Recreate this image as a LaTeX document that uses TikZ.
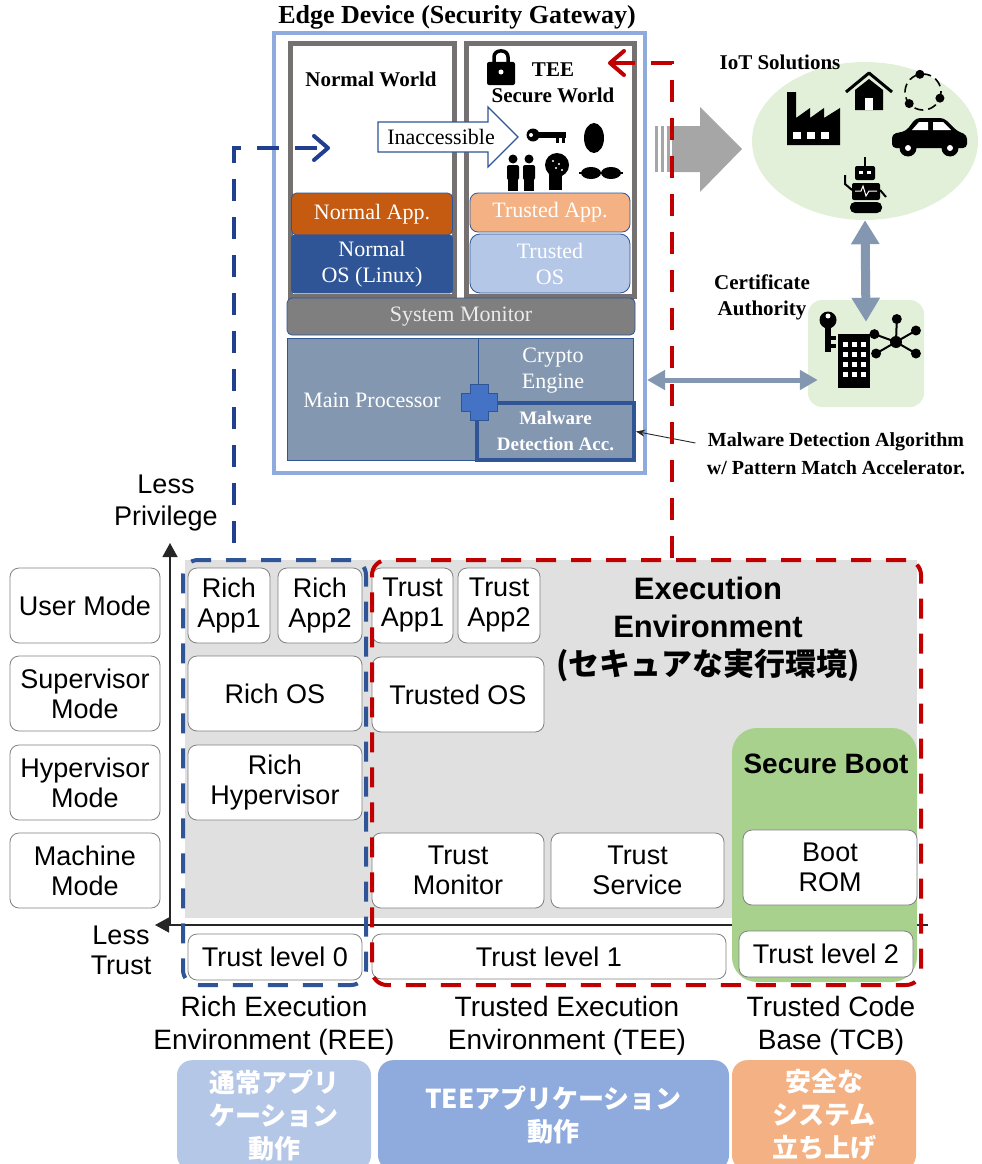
\documentclass[tikz,border=0pt]{standalone}
\usepackage{fontspec}
\setmainfont{Liberation Serif}
\setsansfont{Liberation Sans}
\newfontfamily\jpfont{Noto Sans CJK JP}
\usetikzlibrary{arrows.meta, shapes.geometric}

\definecolor{edgeblue}{HTML}{8FAADC}
\definecolor{worldgray}{HTML}{767171}
\definecolor{apporange}{HTML}{C55A11}
\definecolor{osblue}{HTML}{2F5597}
\definecolor{peach}{HTML}{F4B183}
\definecolor{paleblue}{HTML}{B4C7E7}
\definecolor{monitorgray}{HTML}{7F7F7F}
\definecolor{cpublue}{HTML}{8497B0}
\definecolor{crossblue}{HTML}{4472C4}
\definecolor{teered}{HTML}{C00000}
\definecolor{linkblue}{HTML}{203F8F}
\definecolor{mint}{HTML}{E2F0D9}
\definecolor{bootgreen}{HTML}{A9D18E}
\definecolor{envgray}{HTML}{E0E0E0}
\definecolor{arrowgray}{HTML}{A6A6A6}

\begin{document}
\begin{tikzpicture}[
        x=1pt, y=-1pt,
        wh/.style 2 args={minimum width=#1pt, minimum height=#2pt},
        serif/.style={font=\fontsize{22}{26}\selectfont},
        caption/.style={font=\bfseries\fontsize{21}{26}\selectfont, align=center},
        layer/.style={draw=osblue, line width=0.8pt, inner sep=0pt, align=center,
            text=white, serif},
        world/.style={draw=worldgray, line width=5pt, fill=white},
        mode/.style={draw=black!50, line width=0.8pt, fill=white, rounded corners=9pt,
            inner sep=0pt, align=center, font=\sffamily\fontsize{27}{30}\selectfont},
        envlabel/.style={align=center, font=\sffamily\fontsize{28}{33}\selectfont},
        usage/.style={rounded corners=15pt, text=white, anchor=north, inner sep=0pt,
            align=center, font=\jpfont\bfseries\fontsize{26}{33}\selectfont},
        envbox/.style={rounded corners=15pt, line width=4pt, dash pattern=on 20pt off 15pt},
        link/.style={line width=4pt, dash pattern=on 22pt off 16pt,
            -{Straight Barb[length=14pt, width=24pt, round]}},
        duplex/.style={cpublue, {Triangle[length=24pt, width=27pt]}-{Triangle[length=24pt, width=27pt]}}
    ]
    \clip (0,0) rectangle (982,1164);

    % ---------------- edge device ----------------
    \node[font=\bfseries\fontsize{26}{30}\selectfont] (edgetitle) at (457,17) {Edge Device (Security Gateway)};
    \node[draw=edgeblue, line width=4pt, wh={371}{440}] (edge) at (459.5,253) {};
    \node[world, wh={164}{252}] (normalw) at (372,170) {};
    \node[world, wh={168}{252}] (securew) at (550,170) {};
    \node[caption] (nwtitle) at (371,79) {Normal World};
    \node[caption] (swtitle) at (553,83) {TEE\\Secure World};

    \node[layer, fill=apporange, rounded corners=5pt, wh={161}{42}] (napp) at (372,214) {Normal App.};
    \node[layer, fill=osblue, rounded corners=3pt, wh={161}{58}] (nos) at (372,264) {Normal\\OS (Linux)};
    \node[layer, fill=peach, rounded corners=8pt, wh={160}{39}] (tapp) at (550,212.5) {Trusted App.};
    \node[layer, fill=paleblue, rounded corners=10pt, wh={160}{59}] (tos) at (550,263.5) {Trusted\\OS};
    \node[layer, fill=monitorgray, text=black!8, rounded corners=5pt, wh={348}{37}] (monitor) at (461,316.5) {System Monitor};
    \node[layer, fill=cpublue, wh={346}{122}] (soc) at (460,399) {};
    \node[text=white, serif] (cpu) at (372,400) {Main Processor};
    \node[text=white, serif, align=center] (crypto) at (553,371) {Crypto\\Engine};
    \draw[osblue, line width=1pt] (478,338) -- (478,403);
    \node[draw=osblue, line width=4pt, fill=cpublue, inner sep=0pt, align=center, text=white,
        font=\bfseries\fontsize{19}{26}\selectfont, wh={157}{57}] (mda) at (555.5,431.5) {Malware\\Detection Acc.};
    % bus cross
    \filldraw[fill=crossblue, draw=osblue, line width=0.8pt] (470,384) -- (488,384) -- (488,393) -- (497,393)
        -- (497,411) -- (488,411) -- (488,420) -- (470,420) -- (470,411) -- (461,411) -- (461,393) -- (470,393) -- cycle;

    % inaccessible arrow
    \draw[osblue, line width=1.2pt, fill=white] (378,122) -- (488,122) -- (488,107) -- (518,137)
        -- (488,167) -- (488,152) -- (378,152) -- cycle;
    \node[serif] (inacc) at (441,137) {Inaccessible};

    % lock
    \draw[line width=3.5pt, rounded corners=6pt] (494,66) -- (494,51) -- (508,51) -- (508,66);
    \fill[rounded corners=2pt] (487,62) rectangle (515,85);
    \fill[white] (501,72) circle (2.5);
    % key, fingerprint, people, head, link
    \fill (533,135) circle (6.5);
    \fill (538,132) rectangle (566,138);
    \fill (556,138) rectangle (559,143);
    \fill (562,138) rectangle (565,143);
    \fill[white] (531,135) circle (2);
    \fill (594,138) ellipse (10 and 15);
    \foreach \px in {513,529} {
        \fill (\px,159) circle (4.5);
        \fill[rounded corners=2pt] (\px-6,165) rectangle (\px+6,180);
        \fill (\px-5,178) rectangle (\px+5,191);
    }
    \fill (557,165) circle (12);
    \fill (549,170) rectangle (562,190);
    \foreach \dx/\dy in {553/161,559/164,556/168,562/170} \fill[white] (\dx,\dy) circle (1.2);
    \fill (591,173) ellipse (10 and 6);
    \fill (611,173) ellipse (10 and 6);
    \draw[line width=2pt] (579,173) -- (623,173);

    % big arrow to the IoT side
    \fill[arrowgray] (672,126) -- (700,126) -- (700,107) -- (742,149) -- (700,192) -- (700,172) -- (672,172) -- cycle;
    \foreach \sx in {655,661,667} \fill[arrowgray] (\sx,126) rectangle (\sx+3,172);

    % ---------------- IoT and CA ----------------
    \node[ellipse, fill=mint, inner sep=0pt, wh={226}{158}] (iot) at (865,141) {};
    \node[caption] (iottitle) at (780,62) {IoT Solutions};
    % factory
    \fill (787,145) -- (787,92) -- (796,92) -- (796,118) -- (810,108) -- (810,118) -- (824,108)
        -- (824,118) -- (840,108) -- (840,145) -- cycle;
    \foreach \wx in {793,807,821} \fill[white] (\wx,132) rectangle (\wx+8,139);
    % house
    \draw[line width=3pt, line join=round] (846,92) -- (869,73) -- (892,92);
    \fill (855,90) -- (869,79) -- (883,90) -- (883,110) -- (855,110) -- cycle;
    \fill[white] (865,98) rectangle (873,110);
    % cycle
    \draw[line width=1.6pt, dash pattern=on 9pt off 5pt] (923,92) circle (18);
    \foreach \a in {-100,20,140} \fill (923,92) ++(\a:18) circle (4.5);
    % car
    \fill[rounded corners=4pt] (892,148) -- (892,134) -- (906,131) -- (916,118) -- (944,118)
        -- (957,131) -- (967,135) -- (967,148) -- cycle;
    \fill[white] (912,130) -- (919,122) -- (928,122) -- (928,130) -- cycle;
    \fill[white] (933,130) -- (933,122) -- (943,122) -- (951,130) -- cycle;
    \foreach \cx in {908,950} {
        \fill (\cx,148) circle (8.5);
        \fill[white] (\cx,148) circle (3);
    }
    % robot
    \draw[line width=1.5pt] (865,157) -- (865,166);
    \fill[rounded corners=2pt] (855,166) rectangle (875,180);
    \fill[white] (859,171) rectangle (863,174);
    \fill[white] (867,171) rectangle (871,174);
    \fill[rounded corners=2pt] (852,183) rectangle (880,200);
    \draw[white, line width=1pt] (855,191) -- (861,191) -- (863,186) -- (866,196) -- (869,191) -- (877,191);
    \fill[rounded corners=5pt] (850,202) rectangle (882,213);
    \draw[line width=2pt] (852,190) -- (845,184) -- (845,175);
    \draw[line width=2pt] (880,190) -- (886,197);

    \node[fill=mint, rounded corners=14pt, wh={116}{107}] (ca) at (866,353.5) {};
    \node[caption] (catitle) at (762,297) {Certificate\\Authority};
    % key, building and network
    \fill (828,320) circle (8.5);
    \fill[white] (828,316) circle (2.5);
    \fill (825,325) rectangle (831,352);
    \fill (831,336) rectangle (836,340);
    \fill (831,344) rectangle (836,348);
    \fill (838,334) rectangle (870,388);
    \foreach \wx in {843,852,861}
        \foreach \wy in {342,352,362,372} \fill[white] (\wx,\wy) rectangle ++(5,5);
    \foreach \a in {-88,-30,30,150,-160} {
        \draw[line width=2pt] (896,342) -- ++(\a:23);
        \fill (896,342) ++(\a:23) circle (5);
    }
    \fill (896,342) circle (6);

    \draw[duplex, line width=9pt] (iot.south) -- ([yshift=-22pt]ca.north);
    \draw[duplex, line width=5pt, {Triangle[length=18pt, width=19pt]}-{Triangle[length=18pt, width=19pt]}]
        (edge.east |- 0,380) -- ([xshift=10pt]ca.west |- 0,380);

    \node[caption, font=\bfseries\fontsize{20}{28}\selectfont] (mdacap) at (836,454)
        {Malware Detection Algorithm\\w/ Pattern Match Accelerator.};
    \draw[black!85, line width=0.9pt, -{Stealth[length=9pt, width=7pt]}]
        ([xshift=-8pt, yshift=11pt]mdacap.west) -- (mda.east);

    % ---------------- execution environments ----------------
    \fill[envgray] (185,560) rectangle (917,918);
    \coordinate (axis) at (170,925);
    \coordinate (privtop) at (170,543);
    \coordinate (trustend) at (155,925);
    \coordinate (axisend) at (928,925);
    \draw[black!85, line width=1.3pt, -{Triangle[length=14pt, width=15pt]}] (axis) -- (privtop);
    \draw[black!85, line width=1.3pt, -{Triangle[length=14pt, width=15pt]}] (axisend) -- (trustend);
    \node[envlabel, font=\sffamily\fontsize{27}{32}\selectfont] (lesspriv) at (166,503) {Less\\Privilege};
    \node[envlabel, font=\sffamily\fontsize{27}{30}\selectfont] (lesstrust) at (121,950) {Less\\Trust};

    \node[mode, wh={150}{75}] (usermode) at (85,605.5) {User Mode};
    \node[mode, wh={150}{75}] (supmode) at (85,693.5) {Supervisor\\Mode};
    \node[mode, wh={150}{75}] (hypmode) at (85,782.5) {Hypervisor\\Mode};
    \node[mode, wh={150}{75}] (machmode) at (85,870.5) {Machine\\Mode};

    \node[fill=bootgreen, rounded corners=25pt, wh={185}{254}] (secboot) at (824.5,855) {};
    \node[font=\sffamily\bfseries\fontsize{28}{30}\selectfont] (sbtitle) at (826,764) {Secure Boot};

    \node[mode, wh={82}{75}] (richapp1) at (229,605.5) {Rich\\App1};
    \node[mode, wh={84}{75}] (richapp2) at (320,605.5) {Rich\\App2};
    \node[mode, wh={174}{75}] (richos) at (275,693.5) {Rich OS};
    \node[mode, wh={174}{75}] (richhyp) at (275,782.5) {Rich\\Hypervisor};
    \node[mode, wh={174}{46}] (trust0) at (275,957) {Trust level 0};

    \node[mode, wh={81}{75}] (trustapp1) at (412.5,605.5) {Trust\\App1};
    \node[mode, wh={82}{75}] (trustapp2) at (499,605.5) {Trust\\App2};
    \node[mode, wh={172}{75}] (trustos) at (458,694.5) {Trusted OS};
    \node[mode, wh={172}{75}] (trustmon) at (458,870.5) {Trust\\Monitor};
    \node[mode, wh={173}{75}] (trustsvc) at (637.5,870.5) {Trust\\Service};
    \node[mode, wh={354}{45}] (trust1) at (549,956.5) {Trust level 1};
    \node[mode, wh={174}{75}] (bootrom) at (830,867.5) {Boot\\ROM};
    \node[mode, wh={174}{46}] (trust2) at (826,954) {Trust level 2};

    \node[align=center, font=\sffamily\bfseries\fontsize{31}{38}\selectfont] (eetitle) at (708,629)
        {Execution\\Environment\\{\jpfont (セキュアな実行環境)}};

    \node[envbox, draw=osblue, wh={183}{425}] (ree) at (274.5,772.5) {};
    \node[envbox, draw=teered, wh={549}{425}] (tee) at (646.5,772.5) {};

    % links up to the two worlds
    \coordinate (reetop) at (234,543);
    \coordinate (nwentry) at (330,148);
    \coordinate (swentry) at (608,63);
    \draw[link, linkblue] (reetop) |- (nwentry);
    \draw[link, teered] (tee.north -| 672,0) |- (swentry);

    % ---------------- labels and roles ----------------
    \node[envlabel] (reelabel) at (274,1026) {Rich Execution\\Environment (REE)};
    \node[envlabel] (teelabel) at (567,1026) {Trusted Execution\\Environment (TEE)};
    \node[envlabel] (tcblabel) at (831,1026) {Trusted Code\\Base (TCB)};

    \node[usage, fill=paleblue, wh={194}{110}] (reeuse) at (274,1060) {通常アプリ\\ケーション\\動作};
    \node[usage, fill=edgeblue, wh={351}{110}] (teeuse) at (553.5,1060) {TEEアプリケーション\\動作};
    \node[usage, fill=peach, wh={184}{110}] (tcbuse) at (824,1060) {安全な\\システム\\立ち上げ};
\end{tikzpicture}
\end{document}
